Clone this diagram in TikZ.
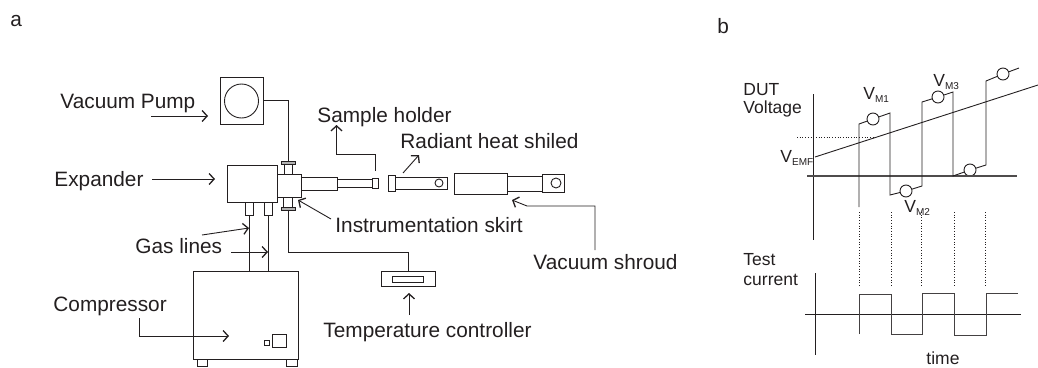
\documentclass[tikz,border=0pt]{standalone}
\usepackage{fontspec}
\setmainfont{Liberation Sans}
\usepackage{xcolor}
\usetikzlibrary{positioning, arrows.meta}
\definecolor{ink}{HTML}{231F20}

\begin{document}
\begin{tikzpicture}[x=1pt,y=-1pt,color=ink,line width=0.9pt,>={Straight Barb[length=5pt,width=11pt,line width=1.3pt]}]
	\tikzstyle{box}=[rectangle,draw=ink,inner sep=0pt,outer sep=0pt]
	\tikzstyle{flange}=[box,fill=gray!60,minimum width=14pt,minimum height=3pt]
	\tikzstyle{hole}=[circle,draw=ink,inner sep=0pt,outer sep=0pt]
	\tikzstyle{lab}=[anchor=base west,inner sep=0pt,font=\fontsize{20.8}{24}\selectfont]
	\tikzstyle{labb}=[anchor=base west,inner sep=0pt,font=\fontsize{17.5}{21}\selectfont]
	\tikzstyle{dots}=[dotted,line width=0.7pt]
	\newcommand{\subv}[1]{{\raisebox{-3pt}{\fontsize{10}{12}\selectfont #1}}}
	\useasboundingbox (0,0) rectangle (1038,367);

	% panel a: cooler
	\node[box,minimum width=43pt,minimum height=47pt](pump) at (241.5,100.5) {};
	\node[hole,minimum size=34pt](pumpc) at (241.5,101) {};
	\node[box,minimum width=50pt,minimum height=37pt](expander) at (252,183.5) {};
	\node[box,minimum width=24pt,minimum height=23pt](cube) at (289,185.5) {};
	\node[box,minimum width=8pt,minimum height=10pt](necktop) at (288,169) {};
	\node[flange](flangetop) at (288,163) {};
	\node[box,minimum width=9pt,minimum height=11pt](neckbot) at (288,202.5) {};
	\node[flange](flangebot) at (288,208.5) {};
	\node[box,minimum width=36pt,minimum height=13pt](arma) at (319,183.5) {};
	\node[box,minimum width=35pt,minimum height=8pt](armb) at (354.5,183) {};
	\node[box,minimum width=6pt,minimum height=10pt](cap) at (375,183) {};
	\node[box,minimum width=8pt,minimum height=13pt](stuba) at (249,208.5) {};
	\node[box,minimum width=8pt,minimum height=13pt](stubb) at (268,208.5) {};

	% radiant shield and shroud
	\node[box,minimum width=7pt,minimum height=16pt](shflange) at (391.5,183) {};
	\node[box,minimum width=52pt,minimum height=12pt](shtube) at (421,183) {};
	\node[hole,minimum size=8pt](shhole) at (439,183) {};
	\node[box,minimum width=53pt,minimum height=21pt](shroud) at (480.5,183.5) {};
	\node[box,minimum width=35pt,minimum height=15pt](sharm) at (524.5,183.5) {};
	\node[box,minimum width=22pt,minimum height=18pt](shend) at (553,183) {};
	\node[hole,minimum size=10pt](shendc) at (556,183) {};

	% compressor and controller
	\node[box,minimum width=105pt,minimum height=88pt](comp) at (245.5,315) {};
	\node[box,minimum width=10pt,minimum height=7pt](foota) at (202,362.5) {};
	\node[box,minimum width=11pt,minimum height=7pt](footb) at (291.5,362.5) {};
	\node[box,minimum size=5pt](knob) at (266.5,342.5) {};
	\node[box,minimum width=14pt,minimum height=13pt](switch) at (279,340.5) {};
	\node[box,minimum width=54pt,minimum height=15pt](temp) at (408,278.5) {};
	\node[box,minimum width=31pt,minimum height=6pt](tempin) at (407.5,279) {};

	\draw (pump.east) -| (flangetop.north);
	\draw (stuba.south) -- (stuba.south |- comp.north);
	\draw (stubb.south) -- (stubb.south |- comp.north);
	\coordinate (tbend) at (408,252);
	\draw (flangebot.south) |- (tbend) -- (temp.north);

	% labels
	\node[lab](la) at (10,26) {a};
	\node[lab](lpump) at (60,108) {Vacuum Pump};
	\node[lab](lexp) at (54,186) {Expander};
	\node[lab](lsample) at (317,122) {Sample holder};
	\node[lab](lrad) at (400,148) {Radiant heat shiled};
	\node[lab](lskirt) at (335,232) {Instrumentation skirt};
	\node[lab](lgas) at (135,253) {Gas lines};
	\node[lab](lshroud) at (533,269) {Vacuum shroud};
	\node[lab](lcomp) at (53,311) {Compressor};
	\node[lab](ltemp) at (323,337) {Temperature controller};

	% free ends of the pointers
	\foreach \n/\x/\y in {pa/151/116,pb/208/116,ea/152/179,eb/215/179,sa/375/171,sb/375/154,sc/336.5/154,sd/336.5/125,
		ra/403/173,rb/419/155,ia/331/219,ib/298/200,va/595/250,vb/595/206,vc/527/206,vd/512/200,
		ga/202/235,gb/249/228,gc/231/252,gd/268/252,ca/139/318,cb/139/336,cc/229/336,ta/409/315,tb/409/293}
		\coordinate (\n) at (\x,\y);
	\draw[->] (pa) -- (pb);
	\draw[->] (ea) -- (eb);
	\draw[->] (sa) -- (sb) -- (sc) -- (sd);
	\draw[->] (ra) -- (rb);
	\draw[->] (ia) -- (ib);
	\draw[->] (va) -- (vb) -- (vc) -- (vd);
	\draw[->] (ga) -- (gb);
	\draw[->] (gc) -- (gd);
	\draw[->] (ca) -- (cb) -- (cc);
	\draw[->] (ta) -- (tb);

	% panel b
	\node[lab](lb) at (717,33) {b};
	\node[labb](ldut) at (743,95) {DUT};
	\node[labb](lvolt) at (743,113) {Voltage};
	\node[labb](ltest) at (743,265) {Test};
	\node[labb](lcurr) at (743,285) {current};
	\node[labb](ltime) at (926,364) {time};
	\node[labb](vm1) at (863,99) {V\subv{M1}};
	\node[labb](vm2) at (904,212) {V\subv{M2}};
	\node[labb](vm3) at (933,86) {V\subv{M3}};
	\node[labb](vemf) at (780,162) {V\subv{EMF}};

	\foreach \n/\x/\y in {ytop/813/94,ybot/813/240,xl/807/176,xr/1017/176,ea1/815/157,ea2/1038/85,da/797/137,db/873/137,
		t0/859/207,t1/859/124,t2/890/113,t3/890/195,t4/922/186,t5/922/102,t6/953/92,t7/953/176,t8/986/165,t9/986/81,t10/1019/68,
		iya/815/273,iyb/815/355,ixa/805/314,ixb/1021/314,c0/859/334,c1/859/294,c2/891/294,c3/891/334,c4/922/334,c5/922/293,
		c6/954/293,c7/954/335,c8/986/335,c9/986/293,c10/1018/293}
		\coordinate (\n) at (\x,\y);
	\foreach \n/\x/\y in {m1/873/119,m2/906/191,m3/938/97,m4/970/170,m5/1003/74}
		\node[hole,minimum size=12pt](\n) at (\x,\y) {};

	\draw (ytop) -- (ybot);
	\draw[line width=1.2pt,ink!80] (xl) -- (xr);
	\draw (ea1) -- (ea2);
	\draw[dots] (da) -- (db);
	\draw (t0) -- (t1) -- (m1) -- (t2) -- (t3) -- (m2) -- (t4) -- (t5) -- (m3) -- (t6) -- (t7) -- (m4) -- (t8) -- (t9) -- (m5) -- (t10);
	\foreach \x/\y in {859/212,891/212,921/212,954.5/212,985/212}
		\draw[dots] (\x,\y) -- (\x,287);
	\draw (iya) -- (iyb);
	\draw (ixa) -- (ixb);
	\draw[ink!85] (c0) -- (c1) -- (c2) -- (c3) -- (c4) -- (c5) -- (c6) -- (c7) -- (c8) -- (c9) -- (c10);
\end{tikzpicture}
\end{document}
